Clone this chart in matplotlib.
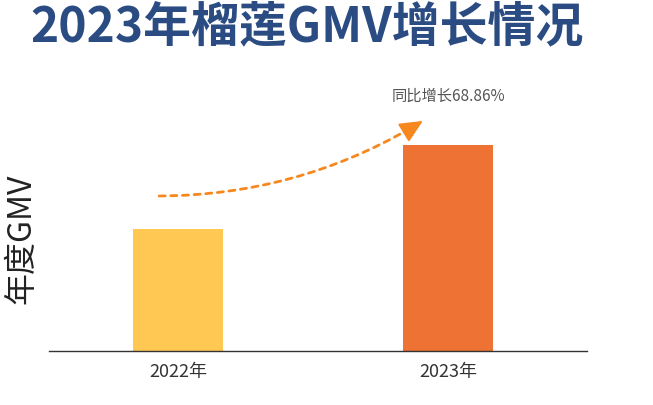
import matplotlib.pyplot as plt

plt.rcParams['font.family'] = ['Noto Sans CJK SC', 'DejaVu Sans']

years = ['2022年', '2023年']
gmv = [100, 168.86]
bar_colors = ['#FEC853', '#EE7233']
growth_label = '同比增长68.86%'

fig = plt.figure(figsize=(6.53, 4.05), dpi=100)
ax = fig.add_axes([49/653, 1 - 351/405, (587 - 49)/653, 271/405])

x = range(len(years))
ax.bar(x, gmv, width=0.333, color=bar_colors)
ax.set_xlim(-0.478, 1.515)
ax.set_ylim(0, 222)

for s in ['top', 'right', 'left']:
    ax.spines[s].set_visible(False)
ax.spines['bottom'].set_color('#333333')
ax.spines['bottom'].set_linewidth(1.0)
ax.set_yticks([])
ax.set_xticks(list(x))
ax.set_xticklabels(years, fontsize=13, color='#333333', fontweight='light')
ax.tick_params(axis='x', length=0, pad=9)

# dashed curved line + solid arrow head
tip = (0.907, 188.5)
ax.annotate('', xy=tip, xytext=(-0.07, 127),
            arrowprops=dict(arrowstyle='-', color='#F7881F', lw=2.0,
                            linestyle=(0, (2.2, 2.0)),
                            connectionstyle='arc3,rad=0.14', shrinkA=0, shrinkB=10))
ax.annotate('', xy=tip, xytext=(-8.5, -5.2), textcoords='offset points',
            arrowprops=dict(arrowstyle='-|>,head_length=1.4,head_width=0.65',
                            color='#F7881F', lw=1.5, shrinkA=0, shrinkB=0))
ax.text(1.0, 209, growth_label, ha='center', va='center', fontsize=11, color='#555555')

fig.text(21/653, 1 - 239/405, '年度GMV', rotation=90, ha='center', va='center',
         fontsize=23, color='#222222', fontweight='light')
fig.text(307/653, 1 - 27/405, '2023年榴莲GMV增长情况', ha='center', va='center',
         fontsize=34.5, color='#2B4C82', fontweight='bold')

fig.savefig('out.png', dpi=100)
